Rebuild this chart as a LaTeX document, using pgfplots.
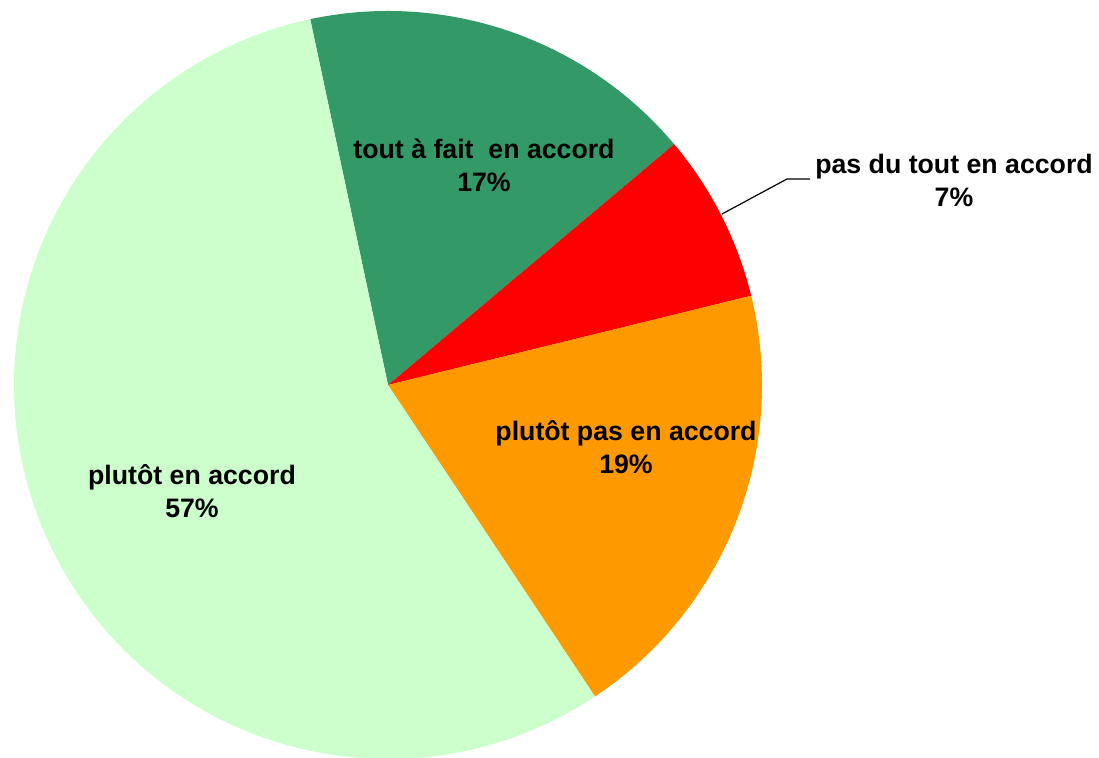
\documentclass[border=0pt]{standalone}
\usepackage{pgfplots}
\pgfplotsset{compat=1.18}
\usepackage{fontspec}
\setmainfont{Liberation Sans}
\definecolor{cDark}{HTML}{339966}
\definecolor{cRed}{HTML}{FF0000}
\definecolor{cOrange}{HTML}{FF9900}
\definecolor{cLight}{HTML}{CCFFCC}
% shares of the pie (percent), clockwise from the start angle
\def\pA{17.2}% tout a fait en accord
\def\pB{7.3}%  pas du tout en accord
\def\pC{19.5}% plutot pas en accord
\def\pD{56.0}% plutot en accord
\pgfmathsetmacro\aO{102}
\pgfmathsetmacro\aA{\aO-3.6*\pA}
\pgfmathsetmacro\aB{\aA-3.6*\pB}
\pgfmathsetmacro\aC{\aB-3.6*\pC}
\pgfmathsetmacro\aD{\aC-3.6*\pD}
\def\R{374bp}
\begin{document}
\begin{tikzpicture}
\begin{axis}[width=1099bp,height=758bp,scale only axis,
  xmin=0,xmax=1099,ymin=0,ymax=758,hide axis,clip=false]
\coordinate (SW) at (axis cs:0,0);
\coordinate (NE) at (axis cs:1099,758);
\fill[cDark] (axis cs:388,373) -- ++(\aO:\R) arc[start angle=\aO,end angle=\aA,radius=\R] -- cycle;
\fill[cRed] (axis cs:388,373) -- ++(\aA:\R) arc[start angle=\aA,end angle=\aB,radius=\R] -- cycle;
\fill[cOrange] (axis cs:388,373) -- ++(\aB:\R) arc[start angle=\aB,end angle=\aC,radius=\R] -- cycle;
\fill[cLight] (axis cs:388,373) -- ++(\aC:\R) arc[start angle=\aC,end angle=\aD,radius=\R] -- cycle;
\draw[black,line width=1.2bp] (axis cs:722,544) -- (axis cs:787,579) -- (axis cs:810,579);
\tikzset{lab/.style={align=center,inner sep=0pt,font=\bfseries\fontsize{26.7bp}{33bp}\selectfont}}
\node[lab] at (axis cs:484,593) {tout à fait\ \ en accord\\17\%};
\node[lab] at (axis cs:954,578) {pas du tout en accord\\7\%};
\node[lab] at (axis cs:626,311) {plutôt pas en accord\\19\%};
\node[lab] at (axis cs:192,267) {plutôt en accord\\57\%};
\end{axis}
\pgfresetboundingbox
\path[use as bounding box] (SW) rectangle (NE);
\end{tikzpicture}
\end{document}
